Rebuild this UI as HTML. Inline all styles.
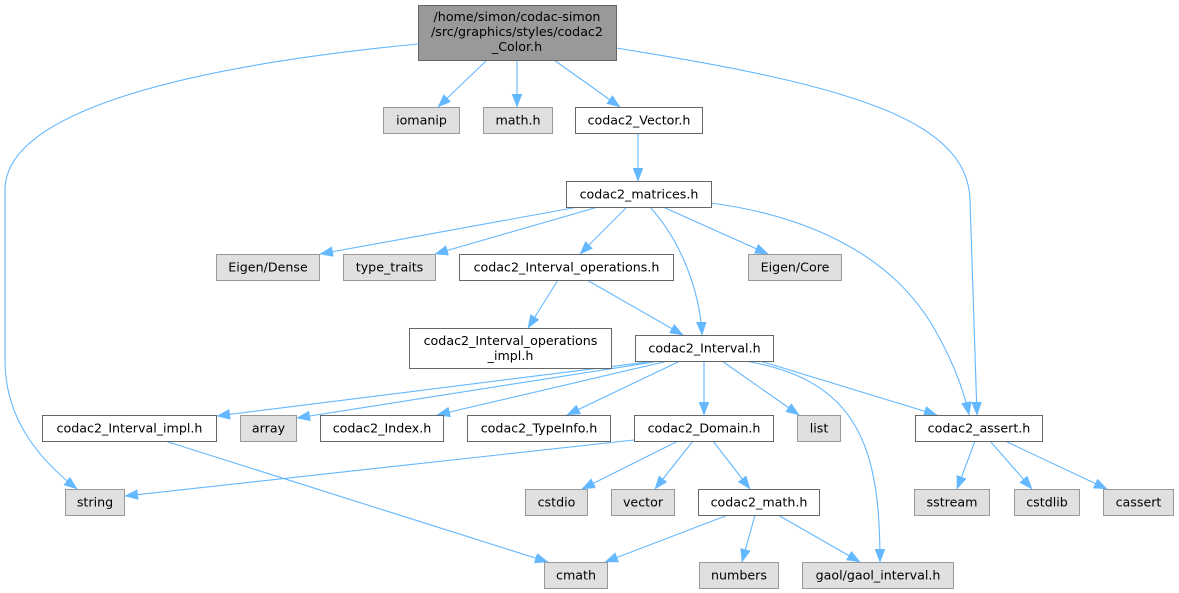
<!DOCTYPE html>
<html><head><meta charset="utf-8"><style>
html,body{margin:0;padding:0;background:#fff;}
svg{display:block;}
text{font-family:"DejaVu Sans","Liberation Sans",sans-serif;font-size:12.65px;fill:#000;text-anchor:middle;}
.w{fill:#fff;stroke:#666;stroke-width:1;}
.g{fill:#e0e0e0;stroke:#999;stroke-width:1;}
.r{fill:#999;stroke:#666;stroke-width:1;}
.e{fill:none;stroke:#63b8ff;stroke-width:1.1;marker-end:url(#a);}
</style></head><body>
<svg width="1179" height="593" viewBox="0 0 1179 593" xmlns="http://www.w3.org/2000/svg">
<defs>
<marker id="a" markerWidth="14" markerHeight="11" refX="13" refY="5" orient="auto" markerUnits="userSpaceOnUse">
<path d="M0,0 L13,5 L0,10 z" fill="#63b8ff" stroke="#63b8ff" stroke-width="0.5"/>
</marker>
</defs>

<!-- edges -->
<path class="e" d="M418,44 C150,70 5,120 5,190 L5,360 C5,420 40,460 77,489"/>
<path class="e" d="M487,60 L438,107"/>
<path class="e" d="M517,60 L517,107"/>
<path class="e" d="M554,60 L620,107"/>
<path class="e" d="M616,48 C850,85 968,120 970,200 L977,415"/>
<path class="e" d="M638,133 L638,181"/>
<path class="e" d="M578,207 L320,254"/>
<path class="e" d="M598,207 L435,254"/>
<path class="e" d="M627,207 L580,254"/>
<path class="e" d="M663,207 L768,254"/>
<path class="e" d="M650,207 C680,240 700,290 702,335"/>
<path class="e" d="M711,203 C800,215 890,250 935,330 C955,365 965,395 969,415"/>
<path class="e" d="M558,280 L528,328"/>
<path class="e" d="M587,280 L683,335"/>
<path class="e" d="M655,361 L217,416"/>
<path class="e" d="M660,361 L297,418"/>
<path class="e" d="M668,361 L437,415"/>
<path class="e" d="M680,361 L567,415"/>
<path class="e" d="M704,361 L704,415"/>
<path class="e" d="M722,361 L799,415"/>
<path class="e" d="M745,361 C860,380 880,450 880,562"/>
<path class="e" d="M760,361 L937,415"/>
<path class="e" d="M165,441 L548,562"/>
<path class="e" d="M634,440 L125,496"/>
<path class="e" d="M678,441 L582,489"/>
<path class="e" d="M693,441 L655,489"/>
<path class="e" d="M713,441 L750,489"/>
<path class="e" d="M728,515 L605,562"/>
<path class="e" d="M755,515 L742,562"/>
<path class="e" d="M778,515 L860,562"/>
<path class="e" d="M975,441 L957,489"/>
<path class="e" d="M990,441 L1032,489"/>
<path class="e" d="M1005,441 L1107,489"/>

<!-- nodes -->
<rect class="r" x="418.5" y="5.5" width="198" height="55"/>
<text x="517" y="20.8">/home/simon/codac-simon</text>
<text x="517" y="35.8">/src/graphics/styles/codac2</text>
<text x="517" y="50.8">_Color.h</text>

<rect class="g" x="383.5" y="107.5" width="76" height="26"/><text x="421.5" y="124.5">iomanip</text>
<rect class="g" x="483.5" y="107.5" width="69" height="26"/><text x="518" y="124.5">math.h</text>
<rect class="w" x="575.5" y="107.5" width="127" height="26"/><text x="639" y="124.5">codac2_Vector.h</text>

<rect class="w" x="566.5" y="181.5" width="145" height="26"/><text x="639" y="198.5">codac2_matrices.h</text>

<rect class="g" x="216.5" y="254.5" width="103" height="26"/><text x="268" y="271.5">Eigen/Dense</text>
<rect class="g" x="343.5" y="254.5" width="92" height="26"/><text x="389.5" y="271.5">type_traits</text>
<rect class="w" x="459.5" y="254.5" width="214" height="26"/><text x="566.5" y="271.5">codac2_Interval_operations.h</text>
<rect class="g" x="748.5" y="254.5" width="93" height="26"/><text x="795" y="271.5">Eigen/Core</text>

<rect class="w" x="409.5" y="328.5" width="202" height="40"/>
<text x="510.5" y="344.8">codac2_Interval_operations</text>
<text x="510.5" y="359.8">_impl.h</text>
<rect class="w" x="635.5" y="335.5" width="138" height="26"/><text x="704.5" y="352.5">codac2_Interval.h</text>

<rect class="w" x="42.5" y="415.5" width="174" height="26"/><text x="129.5" y="432.5">codac2_Interval_impl.h</text>
<rect class="g" x="240.5" y="415.5" width="56" height="26"/><text x="268.5" y="432.5">array</text>
<rect class="w" x="320.5" y="415.5" width="123" height="26"/><text x="382" y="432.5">codac2_Index.h</text>
<rect class="w" x="467.5" y="415.5" width="143" height="26"/><text x="539" y="432.5">codac2_TypeInfo.h</text>
<rect class="w" x="634.5" y="415.5" width="139" height="26"/><text x="704" y="432.5">codac2_Domain.h</text>
<rect class="g" x="797.5" y="415.5" width="43" height="26"/><text x="819" y="432.5">list</text>
<rect class="w" x="915.5" y="415.5" width="127" height="26"/><text x="979" y="432.5">codac2_assert.h</text>

<rect class="g" x="65.5" y="489.5" width="59" height="26"/><text x="95" y="506.5">string</text>
<rect class="g" x="525.5" y="489.5" width="62" height="26"/><text x="556.5" y="506.5">cstdio</text>
<rect class="g" x="611.5" y="489.5" width="63" height="26"/><text x="643" y="506.5">vector</text>
<rect class="w" x="698.5" y="489.5" width="121" height="26"/><text x="759" y="506.5">codac2_math.h</text>
<rect class="g" x="914.5" y="489.5" width="75" height="26"/><text x="952" y="506.5">sstream</text>
<rect class="g" x="1014.5" y="489.5" width="65" height="26"/><text x="1047" y="506.5">cstdlib</text>
<rect class="g" x="1103.5" y="489.5" width="70" height="26"/><text x="1138.5" y="506.5">cassert</text>

<rect class="g" x="544.5" y="562.5" width="63" height="26"/><text x="576" y="579.5">cmath</text>
<rect class="g" x="699.5" y="562.5" width="79" height="26"/><text x="739" y="579.5">numbers</text>
<rect class="g" x="802.5" y="562.5" width="151" height="26"/><text x="878" y="579.5">gaol/gaol_interval.h</text>
</svg>
</body></html>
